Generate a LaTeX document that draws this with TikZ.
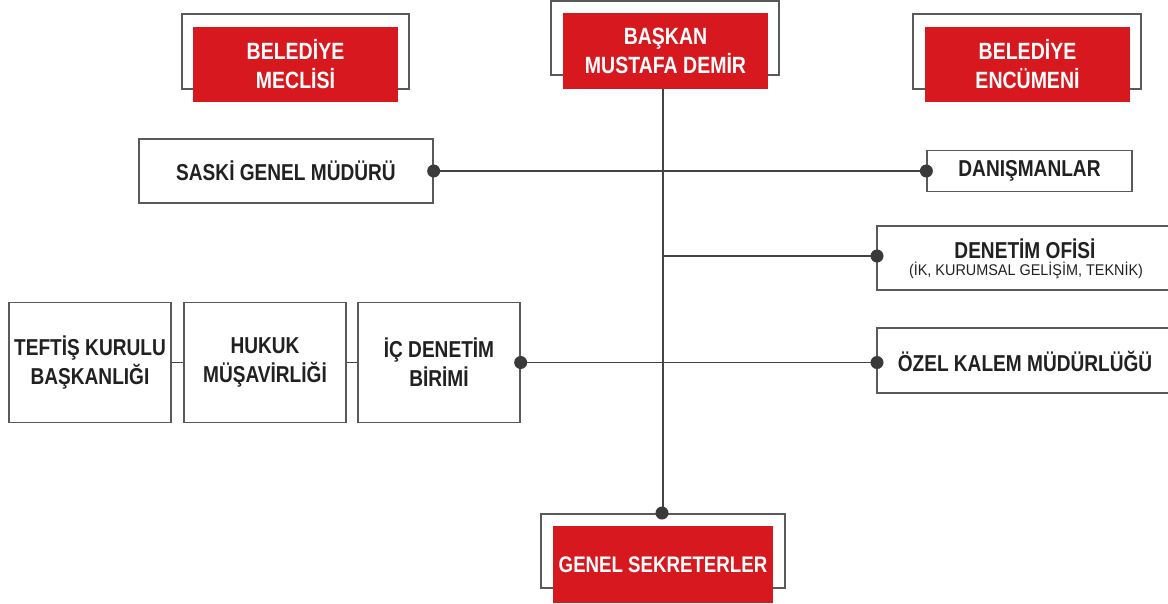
\documentclass[tikz,border=0pt]{standalone}
\usepackage{fontspec}
\newfontfamily\cond{Liberation Sans}[FakeStretch=0.83]
\newfontfamily\condsub{Liberation Sans}[FakeStretch=0.93]
\definecolor{brand}{HTML}{D7191F}
\definecolor{lineg}{HTML}{444444}
\definecolor{frameg}{HTML}{5A5A5A}
\definecolor{dotg}{HTML}{3A3A3A}
\begin{document}
\begin{tikzpicture}[x=1pt,y=-1pt,
  frame/.style={draw=frameg,line width=1.5pt,inner sep=0pt,fill=white},
  redbox/.style={fill=brand,inner sep=0pt,text=white,align=center,font=\cond\bfseries\fontsize{23.5}{29}\selectfont},
  wbox/.style={draw=frameg,line width=1.3pt,inner sep=0pt,fill=white,align=center,font=\cond\bfseries\fontsize{23}{29}\selectfont,text=black!87},
  conn/.style={draw=lineg,line width=1.3pt},
  dot/.style={circle,fill=dotg,inner sep=0pt,minimum size=13pt}]
\useasboundingbox (0,0) rectangle (1168,603);
% top frames
\node[frame,minimum width=227pt,minimum height=75pt] (f1) at (295.5,51.5) {};
\node[frame,minimum width=228pt,minimum height=74pt] (f2) at (665,38) {};
\node[frame,minimum width=228pt,minimum height=75pt] (f3) at (1027,51.5) {};
\node[frame,minimum width=244pt,minimum height=74pt] (f4) at (663,551) {};
% trunk points
\coordinate (t256) at (663,256);
% red boxes
\node[redbox,minimum width=205pt,minimum height=75pt] (mec) at (295.5,64.5) {BELEDİYE\\MECLİSİ};
\node[redbox,minimum width=205pt,minimum height=76pt] (bas) at (665.5,51) {BAŞKAN\\MUSTAFA DEMİR};
\node[redbox,minimum width=205pt,minimum height=75pt] (enc) at (1027.5,64.5) {BELEDİYE\\ENCÜMENİ};
% white boxes
\node[wbox,minimum width=294pt,minimum height=64pt] (saski) at (286,171) {SASKİ GENEL MÜDÜRÜ};
\node[wbox,minimum width=205pt,minimum height=41pt] (dan) at (1029.5,171) {DANIŞMANLAR};
\node[wbox,minimum width=162pt,minimum height=120pt] (tef) at (90,362.5) {TEFTİŞ KURULU\\BAŞKANLIĞI};
\node[wbox,minimum width=162pt,minimum height=120pt] (huk) at (265,362.5) {HUKUK\\MÜŞAVİRLİĞİ};
\node[wbox,minimum width=162pt,minimum height=120pt] (ic) at (439,362.5) {İÇ DENETİM\\BİRİMİ};
% open-right boxes
\draw[draw=frameg,line width=1.3pt] (1172,226) -- (877,226) -- (877,290) -- (1172,290);
\node[inner sep=0pt,text=black!87,font=\cond\bfseries\fontsize{23}{25}\selectfont] (den) at (1025,249) {DENETİM OFİSİ};
\node[inner sep=0pt,text=black!87,font=\condsub\fontsize{15.5}{18}\selectfont] (densub) at (1026,270) {(İK, KURUMSAL GELİŞİM, TEKNİK)};
\coordinate (denl) at (877,256);
\draw[draw=frameg,line width=1.3pt] (1172,328) -- (877,328) -- (877,393) -- (1172,393);
\node[inner sep=0pt,text=black!87,font=\cond\bfseries\fontsize{23}{25}\selectfont] (ozel) at (1025,361) {ÖZEL KALEM MÜDÜRLÜĞÜ};
\coordinate (ozell) at (877,362.5);
\node[redbox,minimum width=220pt,minimum height=77pt,font=\cond\bfseries\fontsize{22.5}{29}\selectfont] (gen) at (663,564.5) {GENEL SEKRETERLER};
% connectors
\path[conn] (bas.south -| 663,0) -- (663,513);
\path[conn] (saski.east) -- (dan.west);
\path[conn] (t256) -- (denl);
\path[conn] (ic.east) -- (ozell);
\path[conn] (tef.east) -- (huk.west);
\path[conn] (huk.east) -- (ic.west);
% dots
\node[dot] at (saski.east) {};
\node[dot] at (dan.west) {};
\node[dot] at (denl) {};
\node[dot] at (ic.east) {};
\node[dot] at (ozell) {};
\node[dot] at (662,513) {};
\end{tikzpicture}
\end{document}
